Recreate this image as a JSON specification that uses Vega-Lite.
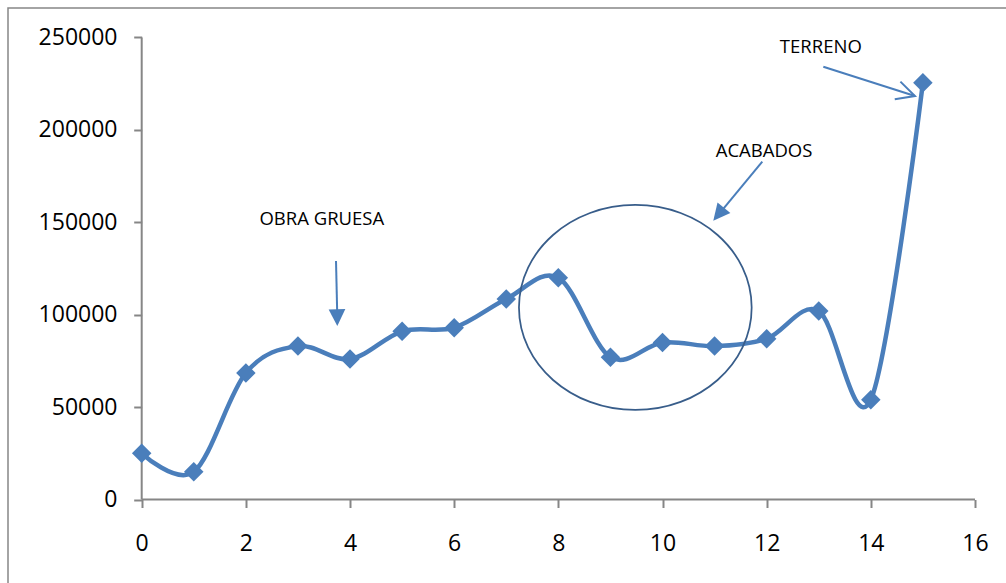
{
  "$schema": "https://vega.github.io/schema/vega-lite/v6.json",
  "width": 1000,
  "height": 577,
  "autosize": "none",
  "padding": {"left": 8, "top": 8, "right": 0, "bottom": 0},
  "background": "white",
  "config": {
    "view": {"stroke": "#868686", "strokeWidth": 1.5},
    "font": "Open Sans"
  },
  "datasets": {
    "costs": [
      {"x": 0, "y": 25000}, {"x": 1, "y": 15000}, {"x": 2, "y": 68500}, {"x": 3, "y": 83000},
      {"x": 4, "y": 76000}, {"x": 5, "y": 91000}, {"x": 6, "y": 93000}, {"x": 7, "y": 108500},
      {"x": 8, "y": 120000}, {"x": 9, "y": 77000}, {"x": 10, "y": 85000}, {"x": 11, "y": 83000},
      {"x": 12, "y": 87000}, {"x": 13, "y": 102000}, {"x": 14, "y": 54000}, {"x": 15, "y": 225500}
    ],
    "axislines": [
      {"x": 0, "y": 0, "x2": 16, "y2": 0},
      {"x": 0, "y": 0, "x2": 0, "y2": 250000}
    ],
    "labels": [
      {"x": 3.458, "y": 151700, "text": "OBRA GRUESA"},
      {"x": 11.95, "y": 188700, "text": "ACABADOS"},
      {"x": 13.04, "y": 244900, "text": "TERRENO"}
    ],
    "arrows": [
      {"x": 3.731, "y": 129100, "x2": 3.754, "y2": 101000},
      {"x": 11.916, "y": 182800, "x2": 11.123, "y2": 155800},
      {"x": 13.088, "y": 234200, "x2": 14.848, "y2": 218340}
    ],
    "headObra": [{"x": 3.756, "y": 93900}],
    "headAcab": [{"x": 10.975, "y": 150900}],
    "headTerr": [{"x": 14.848, "y": 218340}],
    "ellipse": [{"x": 9.478, "y": 103900}]
  },
  "encoding": {
    "x": {"field": "x", "type": "quantitative", "scale": {"domain": [-2.5672, 16.634], "nice": false, "zero": false},
      "axis": {"values": [0, 2, 4, 6, 8, 10, 12, 14, 16], "offset": -85.5, "domain": false, "grid": false,
        "tickSize": 8, "tickColor": "#868686", "tickWidth": 2, "labelFontSize": 23, "labelFont": "Open Sans",
        "labelColor": "#000000", "labelPadding": 35.5, "labelBaseline": "middle", "title": null, "format": "d",
        "labelFlush": false, "labelOverlap": false}},
    "y": {"field": "y", "type": "quantitative", "scale": {"domain": [-46266, 265963], "nice": false, "zero": false},
      "axis": {"values": [0, 50000, 100000, 150000, 200000, 250000], "offset": -133.7, "domain": false, "grid": false,
        "tickSize": 8, "tickColor": "#868686", "tickWidth": 2, "labelFontSize": 23, "labelFont": "Open Sans",
        "labelColor": "#000000", "labelPadding": 16.7, "title": null, "format": "d",
        "labelFlush": false, "labelOverlap": false}}
  },
  "layer": [
    {
      "data": {"name": "axislines"},
      "mark": {"type": "rule", "color": "#868686", "strokeWidth": 2},
      "encoding": {"x2": {"field": "x2"}, "y2": {"field": "y2"}}
    },
    {
      "data": {"name": "costs"},
      "mark": {"type": "line", "interpolate": "cardinal", "tension": 0, "color": "#4A7EBB", "strokeWidth": 4.5},
      "encoding": {}
    },
    {
      "data": {"name": "costs"},
      "mark": {"type": "point", "shape": "diamond", "filled": true, "size": 380, "color": "#4A7EBB", "opacity": 1}
    },
    {
      "data": {"name": "ellipse"},
      "mark": {"type": "point", "shape": "M -1 0 A 1 0.881 0 1 1 1 0 A 1 0.881 0 1 1 -1 0 Z", "filled": false,
        "size": 54149, "stroke": "#385D8A", "strokeWidth": 1.75, "opacity": 1}
    },
    {
      "data": {"name": "arrows"},
      "mark": {"type": "rule", "color": "#4A7EBB", "strokeWidth": 2},
      "encoding": {"x2": {"field": "x2"}, "y2": {"field": "y2"}}
    },
    {
      "data": {"name": "headObra"},
      "mark": {"type": "point", "shape": "M 0 0 L 0.5 1 L -0.5 1 Z", "filled": true, "size": 1115, "angle": 178.9, "color": "#4A7EBB", "opacity": 1}
    },
    {
      "data": {"name": "headAcab"},
      "mark": {"type": "point", "shape": "M 0 0 L 0.5 1 L -0.5 1 Z", "filled": true, "size": 1115, "angle": 219.7, "color": "#4A7EBB", "opacity": 1}
    },
    {
      "data": {"name": "headTerr"},
      "mark": {"type": "point", "shape": "M -0.454 0.891 L 0 0 L 0.454 0.891", "filled": false, "size": 1681, "angle": 107.7, "stroke": "#4A7EBB", "strokeWidth": 2, "opacity": 1}
    },
    {
      "data": {"name": "labels"},
      "mark": {"type": "text", "font": "Open Sans", "fontSize": 18.5, "color": "#000000", "align": "center", "baseline": "middle"},
      "encoding": {"text": {"field": "text"}}
    }
  ]
}
